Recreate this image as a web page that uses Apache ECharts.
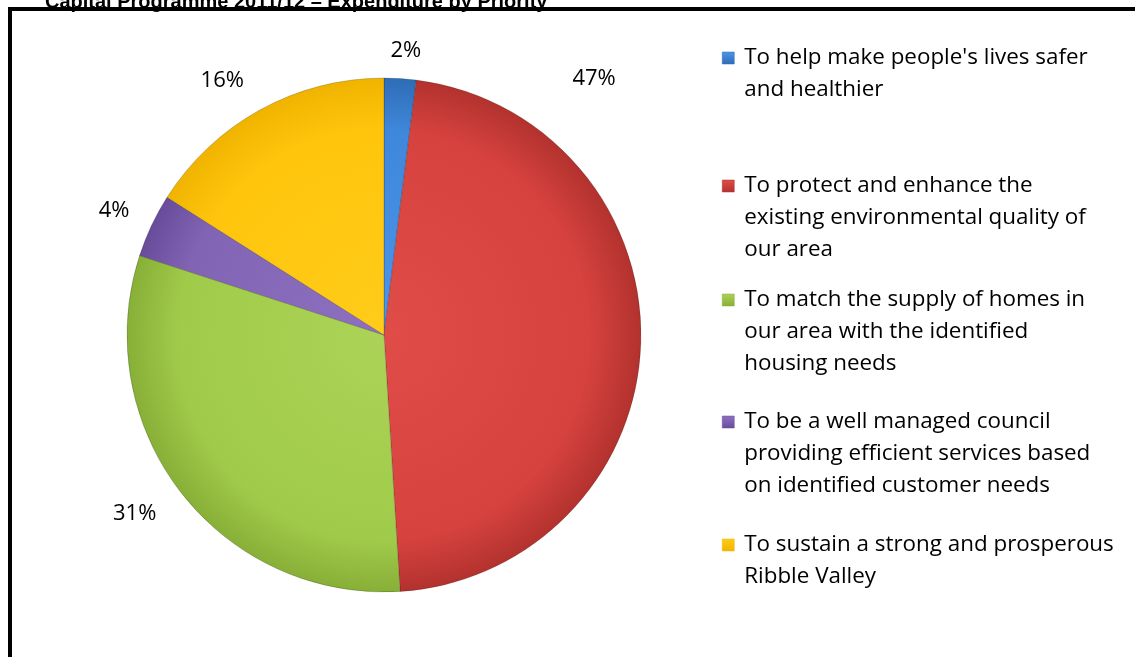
<!DOCTYPE html>
<html><head><meta charset="utf-8">
<script src="https://cdn.jsdelivr.net/npm/echarts@6/dist/echarts.min.js"></script>
<style>html,body{margin:0;padding:0;background:#fff}#c{width:1135px;height:657px}</style>
</head><body><div id="c"></div>
<script>
const TITLE = 'Capital Programme 2011/12 \u2013 Expenditure by Priority';
const CATEGORIES = [
  "To help make people's lives safer\nand healthier",
  "To protect and enhance the\nexisting environmental quality of\nour area",
  "To match the supply of homes in\nour area with the identified\nhousing needs",
  "To be a well managed council\nproviding efficient services based\non identified customer needs",
  "To sustain a strong and prosperous\nRibble Valley"
];
const SHARES = [2, 47, 31, 4, 16];

// styling / layout constants
const COLORS_LIGHT = ['#4d95e8', '#e04c48', '#acd357', '#8e70c0', '#ffcc1a'];
const COLORS = ['#3f87da', '#d6423e', '#a0cb4a', '#8264b5', '#ffc50c'];
const COLORS_DARK = ['#2e6cb6', '#b3322e', '#88af37', '#684c9a', '#f0b400'];
const CX = 384, CY = 335, R = 257;
const LABEL_POLAR = [[4.4, 285], [39.4, 331], [234.3, 307], [294.7, 297], [327.5, 301]];
const LEGEND_ICON_CENTERS = [58, 186, 300, 422, 545];
const LINE_H = 32;
const FONT = 'Open Sans';

function sliceColor(i) {
  return new echarts.graphic.RadialGradient(CX, CY, R, [
    {offset: 0, color: COLORS_LIGHT[i]},
    {offset: 0.8, color: COLORS[i]},
    {offset: 1, color: COLORS_DARK[i]}
  ], true);
}
function iconColor(i) {
  return new echarts.graphic.LinearGradient(0, 0, 0, 1, [
    {offset: 0, color: COLORS_LIGHT[i]},
    {offset: 1, color: COLORS_DARK[i]}
  ]);
}

const chart = echarts.init(document.getElementById('c'), null, {renderer: 'canvas'});
chart.setOption({
  backgroundColor: '#fff',
  animation: false,
  title: {
    text: TITLE, left: 40, top: -14,
    textStyle: {fontFamily: 'Liberation Sans', fontWeight: 'bold', fontSize: 20, lineHeight: 22, color: '#000'}
  },
  graphic: [{
    type: 'rect', z: 100, silent: true,
    shape: {x: 10, y: 9, width: 1300, height: 1000},
    style: {fill: null, stroke: '#000', lineWidth: 4}
  }],
  legend: CATEGORIES.map((name, i) => {
    const extra = (name.split('\n').length - 1) * LINE_H;
    return {
      orient: 'vertical', left: 722, top: LEGEND_ICON_CENTERS[i] - LINE_H / 2 - extra, padding: 0,
      itemWidth: 12, itemHeight: 12, selectedMode: false,
      data: [{name: name, icon: 'rect', itemStyle: {color: iconColor(i), borderColor: COLORS_DARK[i], borderWidth: 0.5}}],
      textStyle: {
        fontFamily: FONT, fontSize: 22.4, color: '#000', lineHeight: LINE_H,
        padding: [extra, 0, 0, 5],
        rich: {r: {fontFamily: FONT, fontSize: 22.4, lineHeight: LINE_H}}
      }
    };
  }),
  series: [{
    type: 'pie',
    center: [CX, CY], radius: R,
    startAngle: 90, clockwise: true,
    avoidLabelOverlap: false,
    emphasis: {disabled: true},
    itemStyle: {borderColor: 'rgba(0,0,0,0.18)', borderWidth: 1},
    label: {show: true, position: 'outside', formatter: '{c}%', fontFamily: FONT, fontSize: 22, color: '#000'},
    labelLine: {show: false},
    labelLayout: function (p) {
      const pol = LABEL_POLAR[p.dataIndex];
      const a = pol[0] * Math.PI / 180;
      return {x: CX + pol[1] * Math.sin(a), y: CY - pol[1] * Math.cos(a), align: 'center', verticalAlign: 'middle'};
    },
    data: CATEGORIES.map((name, i) => ({name: name, value: SHARES[i], itemStyle: {color: sliceColor(i)}}))
  }]
});
</script></body></html>
